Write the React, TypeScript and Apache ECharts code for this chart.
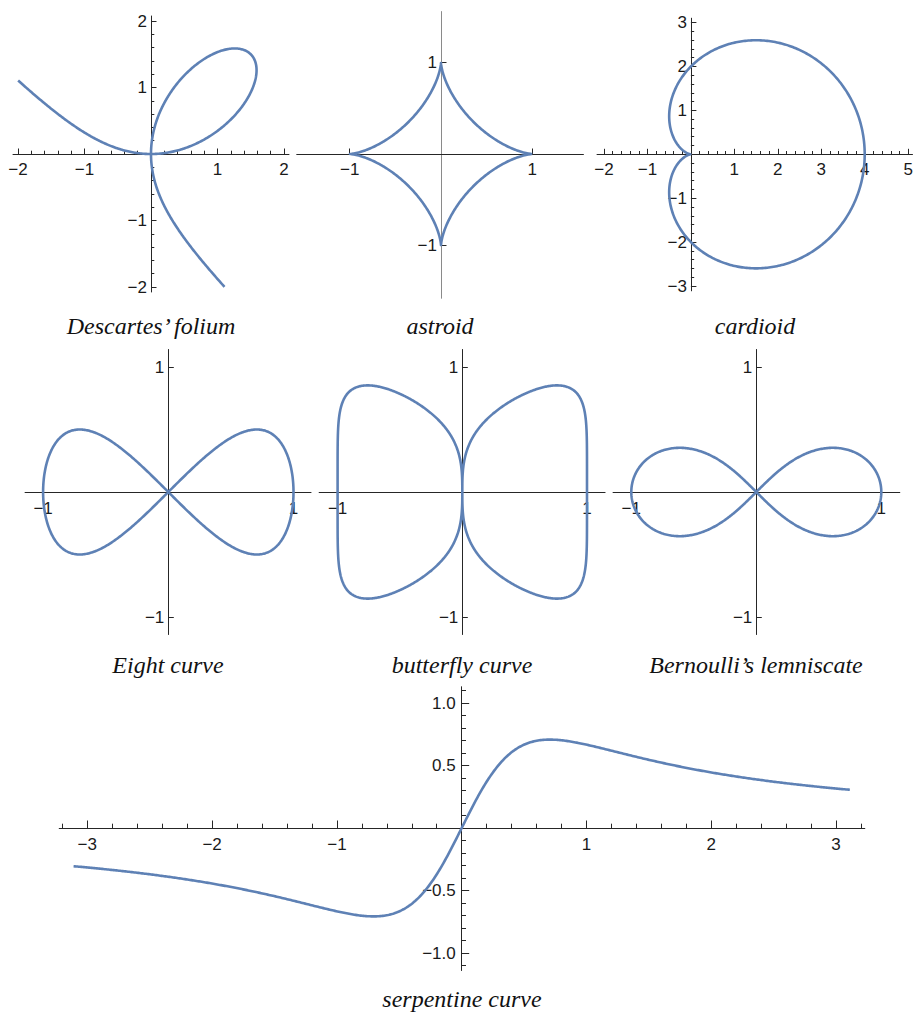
import React, { useEffect, useRef } from 'react';
import * as echarts from 'echarts';

// ---- curve titles ----
const curveTitles = [
  'Descartes’ folium',
  'astroid',
  'cardioid',
  'Eight curve',
  'butterfly curve',
  'Bernoulli’s lemniscate',
  'serpentine curve',
];

// ---- labelled tick values ----
const foliumTicks = [-2, -1, 1, 2];
const cardioidXTicks = [-2, -1, 1, 2, 3, 4, 5];
const cardioidYTicks = [-3, -2, -1, 1, 2, 3];
const unitTicks = [-1, 1];
const serpentineXTicks = [-3, -2, -1, 1, 2, 3];
const serpentineYTicks = [-1, -0.5, 0.5, 1];

// ---- curve parameters ----
const foliumA = [1];
const foliumPhiSpan = [-0.50529, 2.07608]; // branch ends at x = -2 and y = -2
const astroidA = [1];
const cardioidA = [2];
const geronoA = [1];
const lemniscateA = [1];
const serpentineAB = [0.7071, 1.4142];
const serpentineSpan = [-3.11, 3.11];

const CURVE_COLOR = '#5E81B5';
const AXIS_COLOR = '#262626';
const LABEL_COLOR = '#1a1a1a';

function sample(n: number, t0: number, t1: number, f: (t: number) => number[]) {
  const out: number[][] = [];
  for (let k = 0; k <= n; k++) out.push(f(t0 + ((t1 - t0) * k) / n));
  return out;
}

const TAU = Math.PI * 2;

const foliumData = sample(900, foliumPhiSpan[0], foliumPhiSpan[1], (p) => {
  const s = Math.sin(p), c = Math.cos(p), a = foliumA[0];
  const d = c * c * c + s * s * s;
  return [(3 * a * s * c * c) / d, (3 * a * s * s * c) / d];
});

const astroidData = sample(600, 0, TAU, (t) => [
  astroidA[0] * Math.cos(t) ** 3,
  astroidA[0] * Math.sin(t) ** 3,
]);

const cardioidData = sample(600, 0, TAU, (t) => {
  const r = cardioidA[0] * (1 + Math.cos(t));
  return [r * Math.cos(t), r * Math.sin(t)];
});

const eightData = sample(600, 0, TAU, (t) => [
  geronoA[0] * Math.cos(t),
  geronoA[0] * Math.sin(t) * Math.cos(t),
]);

// x^6 + y^6 = x^2 in polar form
const butterflyData = sample(1440, 0, TAU, (t) => {
  const c = Math.cos(t), s = Math.sin(t);
  const r = Math.pow((c * c) / (c ** 6 + s ** 6), 0.25);
  return [r * c, r * s];
});

const lemniscateData = sample(600, 0, TAU, (t) => {
  const s = Math.sin(t), c = Math.cos(t), a = lemniscateA[0];
  const d = 1 + s * s;
  return [(a * c) / d, (a * s * c) / d];
});

const serpentineData = sample(600, serpentineSpan[0], serpentineSpan[1], (x) => {
  const [a, b] = serpentineAB;
  return [x, (a * b * x) / (x * x + a * a)];
});

function minorTicks(lo: number, hi: number, step: number, major: number) {
  const out: number[] = [];
  for (let k = Math.ceil(lo / step - 1e-9); k <= Math.floor(hi / step + 1e-9); k++) {
    const v = Math.round(k * step * 1000) / 1000;
    const q = v / major;
    if (Math.abs(q - Math.round(q)) < 1e-6) continue;
    out.push(v);
  }
  return out;
}

const intFmt = (v: number) => (v < 0 ? '\u2212' + -v : String(v));
const decFmt = (v: number) => (v < 0 ? '\u2212' : '') + Math.abs(v).toFixed(1);

type Panel = {
  origin: [number, number];
  unit: [number, number];
  xRange: [number, number];
  yRange: [number, number];
  xMajor: number[];
  yMajor: number[];
  xMinor: number[];
  yMinor: number[];
  majorLen: number;
  minorLen: number;
  yLabelMargin: number;
  xLabelMargin: number;
  xFmt: (v: number) => string;
  yFmt: (v: number) => string;
  data: number[][];
  title: string;
  titlePos: [number, number];
  yAxisColor?: string;
};

const panels: Panel[] = [
  {
    origin: [151, 154], unit: [66.5, 66.5], xRange: [-2.075, 2.075], yRange: [-2.075, 2.075],
    xMajor: foliumTicks, yMajor: foliumTicks,
    xMinor: minorTicks(-2, 2, 0.2, 1), yMinor: minorTicks(-2, 2, 0.2, 1),
    majorLen: 5.5, minorLen: 3.3, yLabelMargin: 4, xLabelMargin: 7, xFmt: intFmt, yFmt: intFmt,
    data: foliumData, title: curveTitles[0], titlePos: [151, 326],
  },
  {
    origin: [441, 154], unit: [91.3, 91.3], xRange: [-1.58, 1.56], yRange: [-1.58, 1.56],
    xMajor: unitTicks, yMajor: unitTicks, xMinor: [], yMinor: [],
    majorLen: 5.5, minorLen: 3.3, yLabelMargin: 4, xLabelMargin: 7, xFmt: intFmt, yFmt: intFmt,
    data: astroidData, title: curveTitles[1], titlePos: [440, 326], yAxisColor: '#8a8a8a',
  },
  {
    origin: [690.9, 154.3], unit: [43.45, 43.9], xRange: [-2.16, 5.1], yRange: [-3.11, 3.1],
    xMajor: cardioidXTicks, yMajor: cardioidYTicks,
    xMinor: minorTicks(-2, 5, 0.2, 1), yMinor: minorTicks(-3, 3, 0.2, 1),
    majorLen: 5.5, minorLen: 3.3, yLabelMargin: 4, xLabelMargin: 7, xFmt: intFmt, yFmt: intFmt,
    data: cardioidData, title: curveTitles[2], titlePos: [755, 326],
  },
  {
    origin: [168.3, 492], unit: [125.2, 125], xRange: [-1.144, 1.14], yRange: [-1.14, 1.14],
    xMajor: unitTicks, yMajor: unitTicks, xMinor: [], yMinor: [],
    majorLen: 5.5, minorLen: 3.3, yLabelMargin: 4, xLabelMargin: 8, xFmt: intFmt, yFmt: intFmt,
    data: eightData, title: curveTitles[3], titlePos: [168, 665],
  },
  {
    origin: [462.3, 492], unit: [124.7, 125], xRange: [-1.148, 1.145], yRange: [-1.14, 1.14],
    xMajor: unitTicks, yMajor: unitTicks, xMinor: [], yMinor: [],
    majorLen: 5.5, minorLen: 3.3, yLabelMargin: 4, xLabelMargin: 8, xFmt: intFmt, yFmt: intFmt,
    data: butterflyData, title: curveTitles[4], titlePos: [462, 665],
  },
  {
    origin: [756.3, 492], unit: [125, 125], xRange: [-1.146, 1.148], yRange: [-1.14, 1.14],
    xMajor: unitTicks, yMajor: unitTicks, xMinor: [], yMinor: [],
    majorLen: 5.5, minorLen: 3.3, yLabelMargin: 4, xLabelMargin: 8, xFmt: intFmt, yFmt: intFmt,
    data: lemniscateData, title: curveTitles[5], titlePos: [756, 665],
  },
  {
    origin: [461.7, 828], unit: [124.8, 125], xRange: [-3.225, 3.23], yRange: [-1.14, 1.13],
    xMajor: serpentineXTicks, yMajor: serpentineYTicks,
    xMinor: minorTicks(-3.2, 3.2, 0.2, 1), yMinor: minorTicks(-1.1, 1.1, 0.1, 0.5),
    majorLen: 7.5, minorLen: 4.3, yLabelMargin: 6, xLabelMargin: 8, xFmt: intFmt, yFmt: decFmt,
    data: serpentineData, title: curveTitles[6], titlePos: [462, 998.6],
  },
];

function buildOption() {
  const grid: any[] = [];
  const xAxis: any[] = [];
  const yAxis: any[] = [];
  const series: any[] = [];
  const graphic: any[] = [];

  const labelStyle = {
    color: LABEL_COLOR,
    fontFamily: 'Liberation Sans',
    fontSize: 17,
  };

  panels.forEach((p, i) => {
    const [ox, oy] = p.origin;
    const [ux, uy] = p.unit;
    grid.push({
      left: ox + p.xRange[0] * ux,
      top: oy - p.yRange[1] * uy,
      width: (p.xRange[1] - p.xRange[0]) * ux,
      height: (p.yRange[1] - p.yRange[0]) * uy,
      containLabel: false,
      outerBoundsMode: 'none',
    });
    const major = 2 * i;
    const yColor = p.yAxisColor || AXIS_COLOR;

    // the axes cross at the origin: shift each one from the grid edge to zero
    const bottomShift = p.yRange[0] * uy; // negative: moves the bottom axis up
    const topShift = -p.yRange[1] * uy; // negative: moves the top axis down
    const leftShift = p.xRange[0] * ux; // negative: moves the left axis right
    const rightShift = -p.xRange[1] * ux; // negative: moves the right axis left

    xAxis.push(
      {
        gridIndex: i, type: 'value', min: p.xRange[0], max: p.xRange[1], position: 'bottom', offset: bottomShift,
        axisLine: { show: true, onZero: false, lineStyle: { color: AXIS_COLOR, width: 1 } },
        axisTick: { show: true, inside: true, length: p.majorLen, customValues: p.xMajor, lineStyle: { color: AXIS_COLOR, width: 1 } },
        axisLabel: { show: true, customValues: p.xMajor, margin: p.xLabelMargin, formatter: p.xFmt, ...labelStyle },
        splitLine: { show: false },
      },
      {
        gridIndex: i, type: 'value', min: p.xRange[0], max: p.xRange[1], position: 'top', offset: topShift,
        axisLine: { show: false, onZero: false },
        axisTick: { show: p.xMinor.length > 0, inside: false, length: p.minorLen, customValues: p.xMinor, lineStyle: { color: AXIS_COLOR, width: 1 } },
        axisLabel: { show: false },
        splitLine: { show: false },
      }
    );
    yAxis.push(
      {
        gridIndex: i, type: 'value', min: p.yRange[0], max: p.yRange[1], position: 'left', offset: leftShift,
        axisLine: { show: true, onZero: false, lineStyle: { color: yColor, width: 1 } },
        axisTick: { show: true, inside: true, length: p.majorLen, customValues: p.yMajor, lineStyle: { color: AXIS_COLOR, width: 1 } },
        axisLabel: { show: true, customValues: p.yMajor, margin: p.yLabelMargin, formatter: p.yFmt, ...labelStyle },
        splitLine: { show: false },
      },
      {
        gridIndex: i, type: 'value', min: p.yRange[0], max: p.yRange[1], position: 'right', offset: rightShift,
        axisLine: { show: false, onZero: false },
        axisTick: { show: p.yMinor.length > 0, inside: false, length: p.minorLen, customValues: p.yMinor, lineStyle: { color: AXIS_COLOR, width: 1 } },
        axisLabel: { show: false },
        splitLine: { show: false },
      }
    );
    series.push({
      type: 'line',
      xAxisIndex: major,
      yAxisIndex: major,
      data: p.data,
      showSymbol: false,
      symbol: 'none',
      smooth: false,
      silent: true,
      clip: true,
      z: 3,
      lineStyle: { color: CURVE_COLOR, width: 2.6, join: 'round' },
      emphasis: { disabled: true },
    });
    graphic.push({
      type: 'text',
      x: p.titlePos[0],
      y: p.titlePos[1],
      silent: true,
      style: {
        text: p.title,
        align: 'center',
        verticalAlign: 'middle',
        textAlign: 'center',
        textVerticalAlign: 'middle',
        fontFamily: 'Liberation Serif',
        fontStyle: 'italic',
        fontSize: 24,
        fill: '#111',
      },
    });
  });

  return {
    animation: false,
    backgroundColor: '#ffffff',
    grid,
    xAxis,
    yAxis,
    series,
    graphic,
  };
}

export default function App() {
  const ref = useRef<HTMLDivElement>(null);
  useEffect(() => {
    if (!ref.current) return;
    const chart = echarts.init(ref.current, null, { renderer: 'svg' });
    chart.setOption(buildOption() as any);
    return () => chart.dispose();
  }, []);
  return (
    <div
      ref={ref}
      style={{ position: 'absolute', left: 0, top: 0, width: 915, height: 1017, background: '#fff' }}
    />
  );
}
